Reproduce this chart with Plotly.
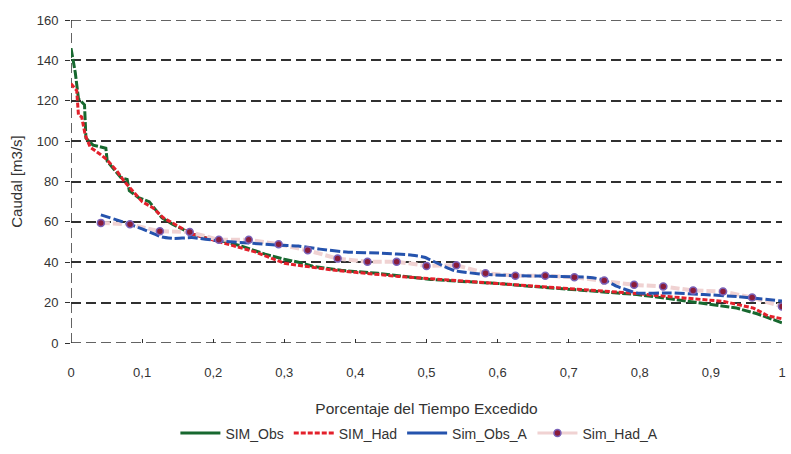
import plotly.graph_objects as go

# Flow-duration curves: discharge vs. fraction of time exceeded
obs_x = [0.000, 0.006, 0.0105, 0.019, 0.021, 0.031, 0.049, 0.051, 0.070, 0.079, 0.082, 0.095,
         0.110, 0.128, 0.142, 0.160, 0.170, 0.190, 0.208, 0.240, 0.273, 0.300, 0.320, 0.340,
         0.380, 0.432, 0.470, 0.506, 0.550, 0.600, 0.650, 0.684, 0.740, 0.796, 0.840, 0.890,
         0.936, 0.965, 0.985, 1.000]
obs_y = [146, 134, 121, 118, 101.5, 98, 96.5, 90, 82, 81, 75.5, 72,
         70, 62, 59, 56, 54, 52, 51, 48, 44, 41.5, 40, 38,
         36, 34.5, 33, 31.5, 30.5, 29.5, 28, 27, 25.5, 24, 22, 19.5,
         17.3, 14.5, 12, 10]

had_x = [0.000, 0.008, 0.0105, 0.015, 0.020, 0.027, 0.041, 0.050, 0.065, 0.075, 0.085, 0.100,
         0.115, 0.130, 0.150, 0.170, 0.200, 0.230, 0.260, 0.300, 0.320, 0.360, 0.400, 0.460,
         0.520, 0.580, 0.640, 0.700, 0.750, 0.796, 0.840, 0.890, 0.918, 0.960, 0.980, 1.000]
had_y = [128.5, 125, 113, 112, 103, 97, 93.5, 91, 85, 80, 76, 70,
         67, 62, 58, 54, 51, 48, 45, 39.5, 38.5, 36.5, 35, 33,
         31.5, 30, 28.5, 27, 26, 24.5, 23, 21.5, 20.6, 17.3, 13.5, 12]

obs_a_x = [0.042, 0.077, 0.100, 0.128, 0.145, 0.170, 0.208, 0.250, 0.290, 0.320, 0.350, 0.390,
           0.437, 0.480, 0.497, 0.516, 0.540, 0.582, 0.630, 0.684, 0.730, 0.750, 0.768, 0.796,
           0.843, 0.890, 0.936, 1.000]
obs_a_y = [63.5, 59.5, 56.5, 52.5, 51.8, 52.2, 50.6, 49.5, 48.5, 48, 46.5, 45,
           44.5, 43.5, 42.5, 39.4, 35.8, 34, 33.3, 33, 32.5, 31.2, 28, 24.8,
           24.8, 24, 23, 20.8]

had_a_x = [0.042, 0.083, 0.125, 0.167, 0.208, 0.250, 0.292, 0.333, 0.375, 0.417, 0.458, 0.500,
           0.542, 0.583, 0.625, 0.667, 0.708, 0.750, 0.792, 0.833, 0.875, 0.917, 0.958, 1.000]
had_a_y = [59.5, 58.8, 55.3, 55.0, 51.1, 51.1, 48.9, 45.9, 41.8, 40.3, 40.3, 38.2,
           38.5, 34.6, 33.3, 33.3, 32.6, 30.9, 28.8, 28.0, 26.0, 25.5, 22.5, 18.1]

x_ticks = [0, 0.1, 0.2, 0.3, 0.4, 0.5, 0.6, 0.7, 0.8, 0.9, 1]
y_ticks = [0, 20, 40, 60, 80, 100, 120, 140, 160]

GREEN = "#17682f"
RED = "#e3202b"
BLUE = "#2553ad"
PINK = "#f0d2d2"
MARK = "#8a1c3a"
MARK_EDGE = "#7a62b8"
GRID = "#303030"
TXT = "#333333"
FONT = "Liberation Sans, Arial, sans-serif"
GRID_DASH = "10px,5px"

fig = go.Figure()

# curves as drawn in the plot area
fig.add_trace(go.Scatter(x=obs_x, y=obs_y, mode="lines", showlegend=False, legendgroup="a",
                         line=dict(color=GREEN, width=3, dash="9px,2px")))
fig.add_trace(go.Scatter(x=had_x, y=had_y, mode="lines", showlegend=False, legendgroup="b",
                         line=dict(color=RED, width=3, dash="5px,2px")))
fig.add_trace(go.Scatter(x=had_a_x, y=had_a_y, mode="lines", showlegend=False, legendgroup="d",
                         line=dict(color=PINK, width=4, dash="9px,3px")))
fig.add_trace(go.Scatter(x=obs_a_x, y=obs_a_y, mode="lines", showlegend=False, legendgroup="c",
                         line=dict(color=BLUE, width=3, dash="10px,3px", shape="spline", smoothing=0.5)))
fig.add_trace(go.Scatter(x=had_a_x, y=had_a_y, mode="markers", showlegend=False, legendgroup="d",
                         marker=dict(color=MARK, size=7, line=dict(color=MARK_EDGE, width=1.5))))

# legend entries
fig.add_trace(go.Scatter(x=[None], y=[None], mode="lines", name="SIM_Obs", legendgroup="a",
                         line=dict(color=GREEN, width=3)))
fig.add_trace(go.Scatter(x=[None], y=[None], mode="lines", name="SIM_Had", legendgroup="b",
                         line=dict(color=RED, width=3, dash="5px,2px")))
fig.add_trace(go.Scatter(x=[None], y=[None], mode="lines", name="Sim_Obs_A", legendgroup="c",
                         line=dict(color=BLUE, width=3)))
fig.add_trace(go.Scatter(x=[None], y=[None], mode="lines+markers", name="Sim_Had_A", legendgroup="d",
                         line=dict(color=PINK, width=3),
                         marker=dict(color=MARK, size=7, line=dict(color=MARK_EDGE, width=1.5))))

# dashed frame pieces: vertical axis line at x = 0, gridlines at both range ends
fig.add_shape(type="line", xref="x", yref="paper", x0=0, x1=0, y0=0, y1=1,
              line=dict(color=GRID, width=1.5, dash=GRID_DASH), layer="below")
for yv in (y_ticks[0], y_ticks[-1]):
    fig.add_shape(type="line", xref="paper", yref="y", x0=0, x1=1, y0=yv, y1=yv,
                  line=dict(color=GRID, width=1.5, dash=GRID_DASH), layer="below")

fig.update_layout(
    width=791, height=454,
    margin=dict(l=71, r=5, t=20, b=107),
    paper_bgcolor="white", plot_bgcolor="white",
    separators=",.",
    font=dict(family=FONT, size=13, color=TXT),
    xaxis=dict(
        range=[0, 1], tickvals=x_ticks, ticks="inside", ticklen=4, tickcolor=GRID,
        showgrid=False, zeroline=False, showline=False, ticklabelstandoff=20,
        title=dict(text="Porcentaje del Tiempo Excedido", standoff=24,
                   font=dict(size=15.5, color=TXT)),
        tickfont=dict(size=13, color=TXT),
    ),
    yaxis=dict(
        range=[0, 160], tickvals=y_ticks, ticks="outside", ticklen=5, tickcolor=GRID,
        showgrid=True, gridcolor=GRID, gridwidth=1.5, griddash=GRID_DASH,
        zeroline=False, showline=False, ticklabelstandoff=4,
        title=dict(text="Caudal [m3/s]", standoff=10, font=dict(size=15, color=TXT)),
        tickfont=dict(size=13, color=TXT),
    ),
    yaxis2=dict(
        range=[0, 160], tickvals=y_ticks, overlaying="y", side="left", anchor="x",
        ticks="inside", ticklen=5, tickcolor=GRID, showticklabels=False,
        showgrid=False, zeroline=False, showline=False,
    ),
    legend=dict(orientation="h", x=0.49, xanchor="center", y=-0.28, yanchor="middle",
                font=dict(size=14, color=TXT), itemwidth=40, tracegroupgap=0),
)

fig.write_html("out.html")
